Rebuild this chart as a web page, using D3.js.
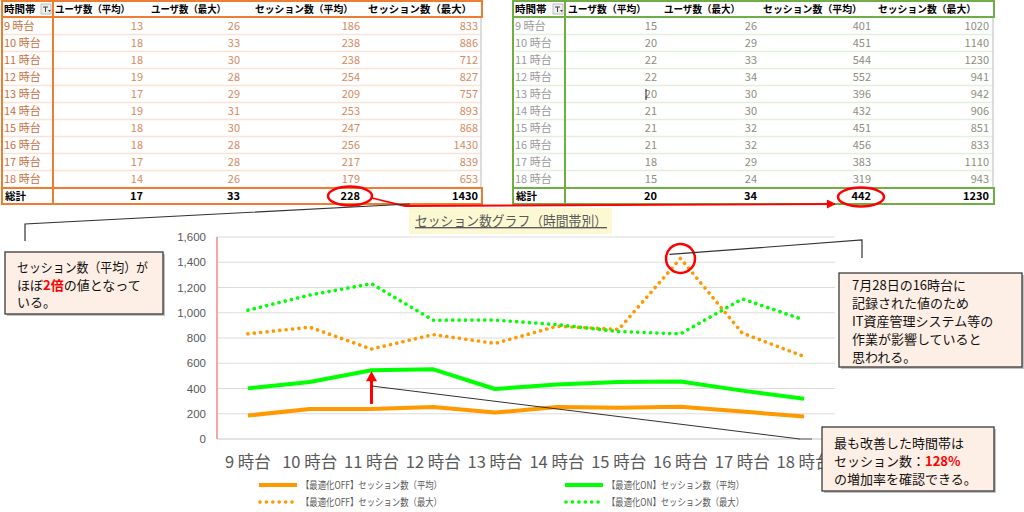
<!DOCTYPE html>
<html><head><meta charset="utf-8">
<script src="https://cdn.jsdelivr.net/npm/d3@7"></script>
<style>
body{margin:0;background:#fff;}
svg{display:block;font-family:"Noto Sans CJK JP","Noto Sans",sans-serif;}
</style></head><body>
<svg id="c" width="1024" height="512"></svg>
<script>
// ---------- data ----------
const hours = ["9 時台","10 時台","11 時台","12 時台","13 時台","14 時台","15 時台","16 時台","17 時台","18 時台"];
const tableHeaders = ["時間帯","ユーザ数（平均）","ユーザ数（最大）","セッション数（平均）","セッション数（最大）"];
const totalLabel = "総計";
// 最適化OFF
const offUserAvg = [13,18,18,19,17,19,18,18,17,14];
const offUserMax = [26,33,30,28,29,31,30,28,28,26];
const offSessAvg = [186,238,238,254,209,253,247,256,217,179];
const offSessMax = [833,886,712,827,757,893,868,1430,839,653];
const offTotals  = [17,33,228,1430];
// 最適化ON
const onUserAvg = [15,20,22,22,20,21,21,21,18,15];
const onUserMax = [26,29,33,34,30,30,32,32,29,24];
const onSessAvg = [401,451,544,552,396,432,451,456,383,319];
const onSessMax = [1020,1140,1230,941,942,906,851,833,1110,943];
const onTotals  = [20,34,442,1230];
const yTicks = [0,200,400,600,800,1000,1200,1400,1600];
const chartTitle = "セッション数グラフ（時間帯別）";
const seriesNames = ["【最適化OFF】セッション数（平均）","【最適化OFF】セッション数（最大）","【最適化ON】セッション数（平均）","【最適化ON】セッション数（最大）"];

const svg = d3.select("#c");
const defs = svg.append("defs");
defs.append("marker").attr("id","ah").attr("viewBox","0 0 10 10").attr("refX",9).attr("refY",5)
  .attr("markerWidth",5).attr("markerHeight",5).attr("orient","auto")
  .append("path").attr("d","M0,0L10,5L0,10z").attr("fill","#ff0000");

// ---------- tables ----------
function drawTable(cfg){
  const g = svg.append("g");
  const rowY = i => 26 + 17*i;
  for(let i=0;i<10;i++){
    g.append("line").attr("x1",cfg.x0).attr("x2",cfg.x1).attr("y1",rowY(i)+8.5).attr("y2",rowY(i)+8.5)
      .attr("stroke",cfg.sep).attr("stroke-width",1.5);
  }
  g.append("line").attr("x1",cfg.x1-1).attr("x2",cfg.x1-1).attr("y1",17).attr("y2",188).attr("stroke","#d0d0d0").attr("stroke-width",1.5);
  [cfg.x0, cfg.div].forEach(x=>g.append("line").attr("x1",x).attr("x2",x).attr("y1",1).attr("y2",204)
     .attr("stroke",cfg.border).attr("stroke-width",2));
  g.append("rect").attr("x",cfg.x0).attr("y",1).attr("width",cfg.x1-cfg.x0).attr("height",16)
    .attr("fill","none").attr("stroke",cfg.border).attr("stroke-width",2);
  g.append("text").attr("x",cfg.x0+2).attr("y",13).attr("font-size",10.5).attr("font-weight","bold").attr("fill","#000").text(tableHeaders[0]);
  g.append("rect").attr("x",cfg.div-12).attr("y",4).attr("width",10).attr("height",10).attr("fill","#eeeeee").attr("stroke","#b0b0b0").attr("stroke-width",0.8);
  g.append("path").attr("d",`M${cfg.div-10},7 h5 M${cfg.div-7.5},7 v5`).attr("stroke","#444").attr("stroke-width",1).attr("fill","none");
  g.append("path").attr("d",`M${cfg.div-5},10 l1.5,2 l1.5,-2z`).attr("fill","#444");
  tableHeaders.slice(1).forEach((h,j)=>{
    g.append("text").attr("x",cfg.hRight[j]-cfg.hLen[j]).attr("y",13).attr("font-size",10)
      .attr("textLength",cfg.hLen[j]).attr("lengthAdjust","spacingAndGlyphs")
      .attr("font-weight","bold").attr("fill","#000").text(h);
  });
  const cols = [cfg.uAvg,cfg.uMax,cfg.sAvg,cfg.sMax];
  hours.forEach((h,i)=>{
    g.append("text").attr("x",cfg.x0+2).attr("y",rowY(i)+4).attr("font-size",11).attr("fill",cfg.labelColor).text(h);
    cols.forEach((arr,j)=>{
      g.append("text").attr("x",cfg.cRight[j]).attr("y",rowY(i)+4).attr("text-anchor","end")
        .attr("font-size",11).attr("fill",cfg.valColor).text(arr[i]);
    });
  });
  g.append("rect").attr("x",cfg.x0).attr("y",188).attr("width",cfg.x1-cfg.x0).attr("height",16)
    .attr("fill","none").attr("stroke",cfg.border).attr("stroke-width",2);
  g.append("text").attr("x",cfg.x0+3).attr("y",200).attr("font-size",10.5).attr("font-weight","bold").attr("fill","#000").text(totalLabel);
  cfg.totals.forEach((v,j)=>{
    g.append("text").attr("x",cfg.cRight[j]).attr("y",200).attr("text-anchor","end").attr("font-size",11)
      .attr("font-weight","bold").attr("fill","#000").text(v);
  });
  return g;
}
drawTable({x0:2,x1:482,div:53,border:"#ED7D31",sep:"#FBE2D5",labelColor:"#c8703f",valColor:"#d58a60",
  hRight:[130,226,353,472],hLen:[75,75,98,104],cRight:[143,240,360,478],
  uAvg:offUserAvg,uMax:offUserMax,sAvg:offSessAvg,sMax:offSessMax,totals:offTotals});
drawTable({x0:513,x1:994,div:565,border:"#70AD47",sep:"#E2EFDA",labelColor:"#9a9a9a",valColor:"#8e8e80",
  hRight:[646,740,862,976],hLen:[78,76,99,98],cRight:[657,757,871,989],
  uAvg:onUserAvg,uMax:onUserMax,sAvg:onSessAvg,sMax:onSessMax,totals:onTotals});
svg.append("line").attr("x1",646).attr("x2",646).attr("y1",89).attr("y2",100).attr("stroke","#222").attr("stroke-width",1);

// ---------- chart ----------
const x = d3.scaleBand().domain(hours).range([217,835]);
const y = d3.scaleLinear().domain([0,1600]).range([439,237]);
const cx = h => x(h)+x.bandwidth()/2;
const chart = svg.append("g");

chart.selectAll("line.grid").data(yTicks).join("line").attr("class","grid")
  .attr("x1",217).attr("x2",835).attr("y1",d=>y(d)).attr("y2",d=>y(d))
  .attr("stroke",d=>d===0?"#c8c8c8":"#dcdcdc").attr("stroke-width",1.2);
chart.append("line").attr("x1",217).attr("x2",217).attr("y1",y(1600)).attr("y2",y(0)).attr("stroke","#f28a8a").attr("stroke-width",1.5);
chart.selectAll("text.yt").data(yTicks).join("text").attr("class","yt")
  .attr("x",206).attr("y",d=>y(d)+4).attr("text-anchor","end").attr("font-size",11.5)
  .attr("fill","#595959").attr("font-family","Liberation Sans, Arial, sans-serif").text(d=>d3.format(",")(d));
chart.selectAll("text.xt").data(hours).join("text").attr("class","xt")
  .attr("x",d=>cx(d)).attr("y",468).attr("text-anchor","middle").attr("font-size",16.5)
  .attr("fill","#595959").text(d=>d);

chart.append("rect").attr("x",409).attr("y",208).attr("width",203).attr("height",26).attr("fill","#fcf9d2");
chart.append("text").attr("x",415).attr("y",226).attr("font-size",13.5)
  .attr("fill","#595959").attr("text-decoration","underline")
  .attr("textLength",192).attr("lengthAdjust","spacingAndGlyphs").text(chartTitle);

const line = d3.line().x((d,i)=>cx(hours[i])).y(d=>y(d));
const series = [
  {vals:offSessAvg,color:"#ff9900",dash:null},
  {vals:offSessMax,color:"#ff9900",dash:"0.1 6.3"},
  {vals:onSessAvg,color:"#00ff00",dash:null},
  {vals:onSessMax,color:"#00ff00",dash:"0.1 6.3"}
];
[series[1],series[3],series[0],series[2]].forEach(s=>{
  chart.append("path").attr("d",line(s.vals)).attr("fill","none").attr("stroke",s.color)
    .attr("stroke-width",s.dash?3.6:4).attr("stroke-linejoin","round")
    .attr("stroke-linecap",s.dash?"round":"butt").attr("stroke-dasharray",s.dash);
});

const legPos = [[259,485],[259,502],[565,485],[565,502]];
const legLen = [141,141,137,137];
seriesNames.forEach((n,i)=>{
  const s = series[i], [lx,ly] = legPos[i];
  svg.append("line").attr("x1",lx+(s.dash?1:0)).attr("x2",lx+38).attr("y1",ly).attr("y2",ly).attr("stroke",s.color)
    .attr("stroke-width",s.dash?3.6:4).attr("stroke-linecap",s.dash?"round":"butt").attr("stroke-dasharray",s.dash);
  svg.append("text").attr("x",lx+42).attr("y",ly+3.5).attr("font-size",10).attr("fill","#595959")
    .attr("textLength",legLen[i]).attr("lengthAdjust","spacingAndGlyphs").text(n);
});

// ---------- annotations ----------
const ann = svg.append("g");
ann.append("ellipse").attr("cx",350).attr("cy",196).attr("rx",22).attr("ry",9.5).attr("fill","none").attr("stroke","#ff0000").attr("stroke-width",2.5);
ann.append("ellipse").attr("cx",861).attr("cy",197).attr("rx",23).attr("ry",9.5).attr("fill","none").attr("stroke","#ff0000").attr("stroke-width",2.5);
ann.append("path").attr("d","M372,198 L405,206 L835,204").attr("fill","none").attr("stroke","#ff0000").attr("stroke-width",1.8).attr("marker-end","url(#ah)");
ann.append("path").attr("d","M25,241 L25,224 L410,204").attr("fill","none").attr("stroke","#333").attr("stroke-width",1.2);
const pk = 7;
ann.append("circle").attr("cx",cx(hours[pk])).attr("cy",y(offSessMax[pk])).attr("r",14.5).attr("fill","none").attr("stroke","#ff0000").attr("stroke-width",2.5);
ann.append("path").attr("d",`M${cx(hours[pk])-11},${y(offSessMax[pk])-4} L862,240 L862,258`).attr("fill","none").attr("stroke","#333").attr("stroke-width",1.2);
const ai = 2, ax = cx(hours[ai]);
const yb = y(offSessAvg[ai])-5, yt = y(onSessAvg[ai])+1;
ann.append("line").attr("x1",ax).attr("x2",ax).attr("y1",yb).attr("y2",yt+9).attr("stroke","#ff0000").attr("stroke-width",3);
ann.append("path").attr("d",`M${ax-5.5},${yt+10} L${ax+5.5},${yt+10} L${ax},${yt}z`).attr("fill","#ff0000");
ann.append("line").attr("x1",ax).attr("y1",386).attr("x2",800).attr("y2",439).attr("stroke","#333").attr("stroke-width",1);
ann.append("line").attr("x1",798).attr("y1",439).attr("x2",812).attr("y2",439).attr("stroke","#888").attr("stroke-width",1.5);

function callout(bx,by,bw,bh,lines,tx,ty,lh){
  ann.append("rect").attr("x",bx+2).attr("y",by+2).attr("width",bw).attr("height",bh).attr("fill","#9a9a9a").attr("opacity",0.6);
  ann.append("rect").attr("x",bx).attr("y",by).attr("width",bw).attr("height",bh).attr("fill","#fdefe5").attr("stroke","#3a3a3a").attr("stroke-width",1.3);
  lines.forEach((ln,i)=>{
    const t = ann.append("text").attr("x",tx).attr("y",ty+i*lh).attr("font-size",13).attr("fill","#111");
    if(ln.len) t.attr("textLength",ln.len).attr("lengthAdjust","spacingAndGlyphs");
    ln.segs.forEach(seg=>{
      const s = t.append("tspan").text(seg.t);
      if(seg.red) s.attr("fill","#ff0000").attr("font-weight","bold");
    });
  });
}
callout(5,252,158,62,[{segs:[{t:"セッション数（平均）が"}],len:131},{segs:[{t:"ほぼ"},{t:"2倍",red:true},{t:"の値となって"}]},{segs:[{t:"いる。"}]}],17,272,17.5);
callout(839,273,183,94,[{segs:[{t:"7月28日の16時台に"}]},{segs:[{t:"記録された値のため"}]},{segs:[{t:"IT資産管理システム等の"}]},{segs:[{t:"作業が影響していると"}]},{segs:[{t:"思われる。"}]}],852,290,18);
callout(822,427,172,64,[{segs:[{t:"最も改善した時間帯は"}]},{segs:[{t:"セッション数："},{t:"128%",red:true}]},{segs:[{t:"の増加率を確認できる。"}]}],834,448,18);
</script>
</body></html>
